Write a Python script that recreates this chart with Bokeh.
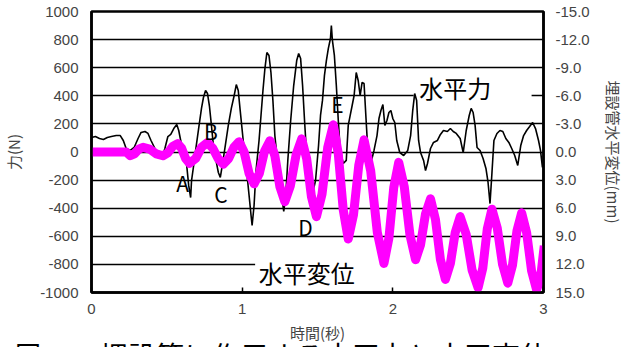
from bokeh.plotting import figure
from bokeh.models import Range1d, LinearAxis, FixedTicker, PrintfTickFormatter, Label, Div
from bokeh.layouts import column
from bokeh.embed import file_html
from bokeh.resources import INLINE

# ---- data: horizontal force (N) ----
force_t = [0.000, 0.026, 0.053, 0.079, 0.105, 0.132, 0.164, 0.191, 0.211, 0.230,
           0.257, 0.283, 0.309, 0.329, 0.355, 0.375, 0.395, 0.421, 0.447, 0.467,
           0.487, 0.507, 0.526, 0.546, 0.566, 0.579, 0.592, 0.612, 0.632, 0.645,
           0.658, 0.664, 0.678, 0.691, 0.711, 0.730, 0.743, 0.757, 0.770, 0.783,
           0.796, 0.809, 0.829, 0.842, 0.855, 0.868, 0.888, 0.908, 0.928, 0.947,
           0.961, 0.974, 0.987, 1.007, 1.026, 1.046, 1.059, 1.066, 1.079, 1.092,
           1.112, 1.125, 1.138, 1.151, 1.164, 1.178, 1.191, 1.204, 1.217, 1.237,
           1.257, 1.276, 1.289, 1.303, 1.322, 1.342, 1.362, 1.375, 1.388, 1.401,
           1.414, 1.428, 1.447, 1.467, 1.487, 1.507, 1.520, 1.533, 1.546, 1.559,
           1.572, 1.586, 1.592, 1.599, 1.612, 1.625, 1.638, 1.651, 1.671, 1.691,
           1.704, 1.717, 1.730, 1.743, 1.757, 1.770, 1.783, 1.796, 1.809, 1.822,
           1.836, 1.855, 1.875, 1.895, 1.908, 1.921, 1.934, 1.947, 1.961, 1.974,
           1.987, 2.000, 2.013, 2.026, 2.046, 2.072, 2.099, 2.118, 2.132, 2.145,
           2.158, 2.171, 2.184, 2.204, 2.217, 2.230, 2.250, 2.270, 2.296, 2.316,
           2.336, 2.362, 2.382, 2.401, 2.421, 2.447, 2.467, 2.487, 2.507, 2.520,
           2.533, 2.546, 2.559, 2.579, 2.599, 2.618, 2.632, 2.645, 2.658, 2.671,
           2.691, 2.711, 2.730, 2.750, 2.770, 2.789, 2.809, 2.829, 2.849, 2.868,
           2.888, 2.908, 2.928, 2.947, 2.967, 2.980, 2.993]
force_n = [103, 110, 96, 89, 103, 110, 117, 117, 82, 25,
           11, 32, 96, 139, 146, 132, 82, 25, -32, -46,
           25, 110, 125, 167, 196, 153, 82, -25, -96, -238,
           -324, -203, -96, 11, 167, 310, 388, 438, 416, 324,
           189, 46, -75, -146, -181, -96, 46, 189, 310, 402,
           480, 438, 295, 82, -96, -310, -452, -523, -381, -132,
           82, 260, 438, 594, 708, 687, 566, 367, 117, -96,
           -274, -423, -310, -60, 224, 473, 651, 701, 665, 473,
           224, -25, -217, -295, -203, 46, 260, 367, 544, 651,
           737, 808, 900, 794, 687, 473, 224, 11, -82, -60,
           189, 260, 331, 402, 566, 509, 402, 495, 488, 238,
           -25, -75, 11, 117, 238, 295, 338, 189, 224, 281,
           295, 238, 210, 82, -4, -25, 11, 117, 295, 416,
           367, 82, -4, -60, -132, -82, 25, 68, 82, 125,
           153, 146, 167, 146, 132, 96, -4, 153, 260, 310,
           281, 189, 32, 11, -46, -117, -217, -367, -146, 82,
           132, 153, 146, 96, 68, 25, -25, -96, 46, 117,
           153, 181, 210, 167, 82, 11, -110]

# ---- data: horizontal displacement of buried pipe (mm) ----
disp_t = [0.000, 0.100, 0.230, 0.257, 0.285, 0.314, 0.342, 0.386, 0.430, 0.474,
          0.507, 0.539, 0.572, 0.598, 0.625, 0.651, 0.691, 0.730, 0.770, 0.805,
          0.840, 0.875, 0.910, 0.945, 0.980, 1.013, 1.046, 1.079, 1.114, 1.149,
          1.184, 1.217, 1.250, 1.283, 1.320, 1.358, 1.395, 1.428, 1.460, 1.493,
          1.530, 1.568, 1.605, 1.638, 1.671, 1.704, 1.739, 1.774, 1.809, 1.853,
          1.897, 1.941, 1.974, 2.006, 2.039, 2.076, 2.114, 2.151, 2.184, 2.217,
          2.250, 2.283, 2.316, 2.349, 2.382, 2.414, 2.447, 2.487, 2.526, 2.566,
          2.597, 2.627, 2.658, 2.693, 2.728, 2.763, 2.794, 2.824, 2.855, 2.888,
          2.921, 2.954, 2.980, 3.005]
disp_mm = [0.0, 0.0, 0.0, 0.4, 0.2, -0.3, -0.5, -0.3, 0.2, 0.4,
           0.1, -0.6, -0.9, -0.4, 0.7, 1.2, 0.7, -0.5, -1.0, -0.4,
           0.7, 1.3, 0.7, -0.5, -1.1, 0.0, 2.3, 3.4, 2.3, -0.1,
           -1.2, 0.4, 3.7, 5.3, 3.6, 0.3, -1.4, 0.7, 4.8, 6.9,
           4.5, -0.5, -2.9, 0.2, 6.2, 9.3, 6.7, 1.4, -1.3, 2.0,
           8.6, 11.9, 9.2, 3.8, 1.1, 3.7, 8.9, 11.5, 9.9, 6.6,
           5.0, 7.2, 11.5, 13.6, 11.9, 8.6, 6.9, 8.8, 12.6, 14.5,
           12.4, 8.2, 6.1, 8.1, 12.0, 14.0, 12.1, 8.4, 6.5, 8.6,
           12.7, 14.7, 13.5, 10.0]

force_ticks = [-1000, -800, -600, -400, -200, 0, 200, 400, 600, 800, 1000]
disp_ticks = [-15, -12, -9, -6, -3, 0, 3, 6, 9, 12, 15]
time_ticks = [0, 1, 2, 3]

NUM_FONT = "Liberation Sans"
JP_FONT = "Noto Sans CJK JP"

p = figure(width=626, height=347, output_backend="svg", toolbar_location=None,
           x_range=Range1d(0, 3), y_range=Range1d(-1000, 1000),
           min_border_left=88, min_border_right=82, min_border_top=11, min_border_bottom=55,
           background_fill_color="white", border_fill_color="white")
p.extra_y_ranges = {"disp": Range1d(start=15, end=-15)}

p.outline_line_color = "black"
p.outline_line_width = 2.5
p.outline_line_alpha = 1.0

# grids
p.xgrid.visible = False
p.ygrid.ticker = FixedTicker(ticks=force_ticks)
p.ygrid.grid_line_color = "black"
p.ygrid.grid_line_width = 1.6

# x axis
xa = p.xaxis[0]
xa.ticker = FixedTicker(ticks=time_ticks)
xa.axis_label = "時間(秒)"
xa.axis_label_text_font = JP_FONT
xa.axis_label_text_font_size = "15px"
xa.axis_label_text_font_style = "normal"
xa.axis_label_standoff = 5
xa.major_label_text_font = NUM_FONT
xa.major_label_text_font_size = "15px"
xa.major_label_standoff = 11
xa.major_tick_in = 5
xa.major_tick_out = 0
xa.minor_tick_in = 0
xa.minor_tick_out = 0
xa.axis_line_color = "black"
xa.axis_line_width = 2.5
xa.major_tick_line_color = "black"
xa.major_tick_line_width = 1.5

# left axis
ya = p.yaxis[0]
ya.ticker = FixedTicker(ticks=force_ticks)
ya.formatter = PrintfTickFormatter(format="%d")
ya.axis_label = "力(N)"
ya.axis_label_text_font = JP_FONT
ya.axis_label_text_font_size = "15px"
ya.axis_label_text_font_style = "normal"
ya.axis_label_standoff = 13
ya.major_label_text_font = NUM_FONT
ya.major_label_text_font_size = "15px"
ya.major_label_standoff = 13
ya.major_tick_in = 0
ya.major_tick_out = 0
ya.minor_tick_in = 0
ya.minor_tick_out = 0
ya.axis_line_color = "black"
ya.axis_line_width = 2.5

# right axis
ra = LinearAxis(y_range_name="disp", ticker=FixedTicker(ticks=disp_ticks),
                formatter=PrintfTickFormatter(format="%.1f"))
ra.axis_label = "埋設管水平変位(mm)"
ra.axis_label_text_font = JP_FONT
ra.axis_label_text_font_size = "15px"
ra.axis_label_text_font_style = "normal"
ra.axis_label_standoff = 10
ra.major_label_text_font = NUM_FONT
ra.major_label_text_font_size = "15px"
ra.major_label_standoff = 12
ra.major_tick_in = 0
ra.major_tick_out = 0
ra.minor_tick_in = 0
ra.minor_tick_out = 0
ra.axis_line_color = "black"
ra.axis_line_width = 2.5
p.add_layout(ra, "right")

# white backgrounds behind the two series names (they hide the gridlines)
p.quad(left=[2.138], right=[2.921], bottom=[370], top=[560], fill_color="white", line_color=None)
p.quad(left=[1.086], right=[3.0], bottom=[-890], top=[-720], fill_color="white", line_color=None)

# series
p.line(force_t, force_n, line_color="black", line_width=1.6)
p.line(disp_t, disp_mm, y_range_name="disp", line_color="#FF00FF", line_width=9,
       line_join="round", line_cap="butt")

# annotations
for txt, tx, fy in [("A", 0.605, -221), ("B", 0.793, 153), ("C", 0.859, -302),
                    ("D", 1.421, -534), ("E", 1.632, 342)]:
    p.add_layout(Label(x=tx, y=fy, text=txt, text_font=JP_FONT, text_font_size="21px",
                       text_align="center", text_baseline="middle", text_color="black"))

p.add_layout(Label(x=2.414, y=459, text="水平力", text_font=JP_FONT, text_font_size="24px",
                   text_align="center", text_baseline="middle", text_color="black"))
p.add_layout(Label(x=1.428, y=-861, text="水平変位", text_font=JP_FONT, text_font_size="24px",
                   text_align="center", text_baseline="middle", text_color="black"))

# figure caption: only its top edge shows at the bottom of the window
caption_html = (
    '<div style="position:relative;width:626px;height:9px;overflow:hidden;margin:0;padding:0;'
    'font-family:\'Noto Sans CJK JP\';line-height:1;white-space:nowrap;color:black;">'
    '<span style="position:absolute;left:10px;top:0;font-size:26px;">図</span>'
    '<span style="position:absolute;left:95px;top:0;font-size:28px;">埋設管に作用する水平力と水平変位</span>'
    '</div>'
)
cap = Div(text=caption_html, width=626, height=9,
          styles={"margin-top": "-9px", "overflow": "hidden", "padding": "0"})

layout = column(p, cap, spacing=0)
open("out.html", "w").write(file_html(layout, INLINE))
